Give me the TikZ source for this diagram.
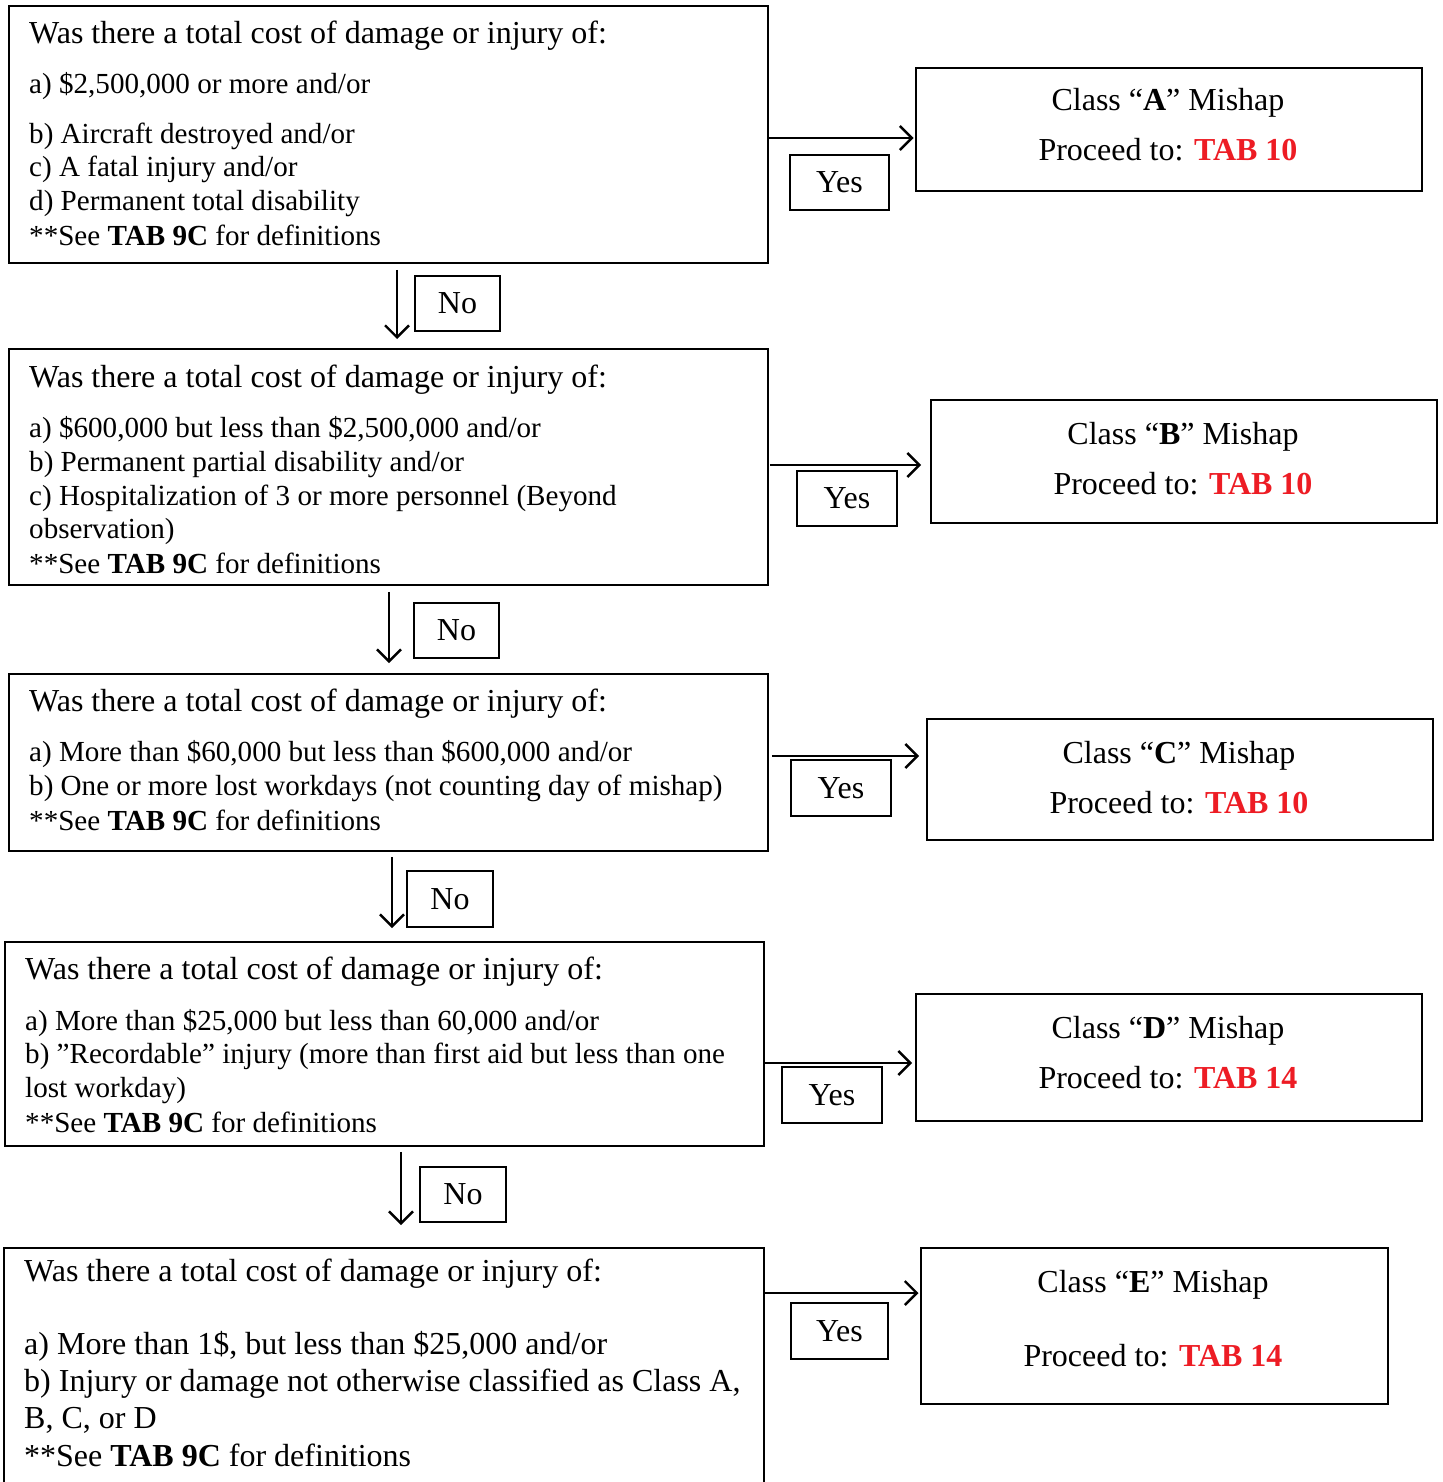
\documentclass[tikz,border=0pt]{standalone}
\usepackage{fontspec}
\setmainfont{Liberation Serif}
\usetikzlibrary{arrows.meta}
\definecolor{tabred}{RGB}{237,28,36}
\newcommand{\smallfnt}{\fontsize{29.1}{34}\selectfont}
\newcommand{\largefnt}{\fontsize{32}{37}\selectfont}
\tikzset{
  qbox/.style={draw=black, line width=1.8pt, rectangle, inner sep=0pt, anchor=north west},
  cbox/.style={draw=black, line width=1.8pt, rectangle, inner sep=0pt, anchor=north west},
  lbl/.style={draw=black, line width=1.8pt, rectangle, inner sep=0pt, font=\largefnt},
  txt/.style={inner sep=0pt, anchor=base west, font=\smallfnt},
  ttl/.style={inner sep=0pt, anchor=base west, font=\largefnt},
  ctxt/.style={inner sep=0pt, anchor=base, font=\largefnt},
  arr/.style={line width=2.4pt, -{Straight Barb[length=12pt, width=24pt, line width=2.4pt]}}
}
\newcommand{\tabref}[1]{\textcolor{tabred}{\textbf{TAB #1}}}
\begin{document}
\begin{tikzpicture}[x=1pt, y=1pt]
\useasboundingbox (0,0) rectangle (1442,-1482);
\clip (0,0) rectangle (1442,-1482);

% question boxes
\node[qbox, minimum width=759pt, minimum height=257pt] (Q1) at (8,-5) {};
\node[qbox, minimum width=759pt, minimum height=236pt] (Q2) at (8,-348) {};
\node[qbox, minimum width=759pt, minimum height=177pt] (Q3) at (8,-673) {};
\node[qbox, minimum width=759pt, minimum height=204pt] (Q4) at (4,-941) {};
\node[qbox, minimum width=760pt, minimum height=250pt] (Q5) at (3,-1247) {};

% class boxes
\node[cbox, minimum width=506pt, minimum height=123pt] (CA) at (915,-67) {};
\node[cbox, minimum width=506pt, minimum height=123pt] (CB) at (930,-399) {};
\node[cbox, minimum width=506pt, minimum height=121pt] (CC) at (926,-718) {};
\node[cbox, minimum width=506pt, minimum height=127pt] (CD) at (915,-993) {};
\node[cbox, minimum width=467pt, minimum height=156pt] (CE) at (920,-1247) {};

% question texts
\node[ttl] (q1a) at (29,-44) {Was there a total cost of damage or injury of:};
\node[txt] (q1b) at (29,-94) {a) \$2,500,000 or more and/or};
\node[txt] (q1c) at (29,-144) {b) Aircraft destroyed and/or};
\node[txt] (q1d) at (29,-177) {c) A fatal injury and/or};
\node[txt] (q1e) at (29,-211) {d) Permanent total disability};
\node[txt] (q1f) at (29,-245) {**See \textbf{TAB 9C} for definitions};

\node[ttl] (q2a) at (29,-387) {Was there a total cost of damage or injury of:};
\node[txt] (q2b) at (29,-437) {a) \$600,000 but less than \$2,500,000 and/or};
\node[txt] (q2c) at (29,-471) {b) Permanent partial disability and/or};
\node[txt] (q2d) at (29,-505) {c) Hospitalization of 3 or more personnel (Beyond};
\node[txt] (q2e) at (29,-538) {observation)};
\node[txt] (q2f) at (29,-573) {**See \textbf{TAB 9C} for definitions};

\node[ttl] (q3a) at (29,-711) {Was there a total cost of damage or injury of:};
\node[txt] (q3b) at (29,-761) {a) More than \$60,000 but less than \$600,000 and/or};
\node[txt] (q3c) at (29,-795) {b) One or more lost workdays (not counting day of mishap)};
\node[txt] (q3d) at (29,-830) {**See \textbf{TAB 9C} for definitions};

\node[ttl] (q4a) at (25,-979) {Was there a total cost of damage or injury of:};
\node[txt] (q4b) at (25,-1030) {a) More than \$25,000 but less than 60,000 and/or};
\node[txt] (q4c) at (25,-1063) {b) ”Recordable” injury (more than first aid but less than one};
\node[txt] (q4d) at (25,-1097) {lost workday)};
\node[txt] (q4e) at (25,-1132) {**See \textbf{TAB 9C} for definitions};

\node[ttl] (q5a) at (24,-1281) {Was there a total cost of damage or injury of:};
\node[ttl] (q5b) at (24,-1354) {a) More than 1\$, but less than \$25,000 and/or};
\node[ttl] (q5c) at (24,-1391) {b) Injury or damage not otherwise classified as Class A,};
\node[ttl] (q5d) at (24,-1428) {B, C, or D};
\node[ttl] (q5e) at (24,-1466) {**See \textbf{TAB 9C} for definitions};

% class texts
\node[ctxt] (ca1) at (1168,-111) {Class “\textbf{A}” Mishap};
\node[ctxt] (ca2) at (1168,-161) {Proceed to: \tabref{10}};
\node[ctxt] (cb1) at (1183,-444) {Class “\textbf{B}” Mishap};
\node[ctxt] (cb2) at (1183,-494) {Proceed to: \tabref{10}};
\node[ctxt] (cc1) at (1179,-763) {Class “\textbf{C}” Mishap};
\node[ctxt] (cc2) at (1179,-813) {Proceed to: \tabref{10}};
\node[ctxt] (cd1) at (1168,-1038) {Class “\textbf{D}” Mishap};
\node[ctxt] (cd2) at (1168,-1088) {Proceed to: \tabref{14}};
\node[ctxt] (ce1) at (1153,-1292) {Class “\textbf{E}” Mishap};
\node[ctxt] (ce2) at (1153,-1366) {Proceed to: \tabref{14}};

% yes labels
\node[lbl, minimum width=99pt, minimum height=55pt] (YA) at (839.5,-182.5) {Yes};
\node[lbl, minimum width=100pt, minimum height=55pt] (YB) at (847,-498.5) {Yes};
\node[lbl, minimum width=100pt, minimum height=56pt] (YC) at (841,-788) {Yes};
\node[lbl, minimum width=100pt, minimum height=56pt] (YD) at (832,-1095) {Yes};
\node[lbl, minimum width=97pt, minimum height=56pt] (YE) at (839.5,-1331) {Yes};

% no labels
\node[lbl, minimum width=85pt, minimum height=55pt] (N1) at (457.5,-303.5) {No};
\node[lbl, minimum width=85pt, minimum height=55pt] (N2) at (456.5,-630.5) {No};
\node[lbl, minimum width=86pt, minimum height=56pt] (N3) at (450,-899) {No};
\node[lbl, minimum width=86pt, minimum height=55pt] (N4) at (463,-1194.5) {No};

% helper coordinates
\coordinate (ya) at (0,-138);
\coordinate (yb) at (0,-465);
\coordinate (yc) at (0,-756);
\coordinate (yd) at (0,-1063);
\coordinate (ye) at (0,-1293);
\coordinate (x1) at (397,0);
\coordinate (x2) at (389,0);
\coordinate (x3) at (392,0);
\coordinate (x4) at (401,0);

% yes arrows
\draw[arr, shorten >=1.5pt] (Q1.east |- ya) -- (CA.west |- ya);
\draw[arr, shorten <=1pt, shorten >=9pt] (Q2.east |- yb) -- (CB.west |- yb);
\draw[arr, shorten <=3pt, shorten >=7pt] (Q3.east |- yc) -- (CC.west |- yc);
\draw[arr, shorten >=3pt] (Q4.east |- yd) -- (CD.west |- yd);
\draw[arr, shorten >=1.5pt] (Q5.east |- ye) -- (CE.west |- ye);

% no arrows
\draw[arr, shorten <=6pt, shorten >=9pt] (Q1.south -| x1) -- (Q2.north -| x1);
\draw[arr, shorten <=6pt, shorten >=10pt] (Q2.south -| x2) -- (Q3.north -| x2);
\draw[arr, shorten <=5pt, shorten >=13pt] (Q3.south -| x3) -- (Q4.north -| x3);
\draw[arr, shorten <=5pt, shorten >=22pt] (Q4.south -| x4) -- (Q5.north -| x4);
\end{tikzpicture}
\end{document}
